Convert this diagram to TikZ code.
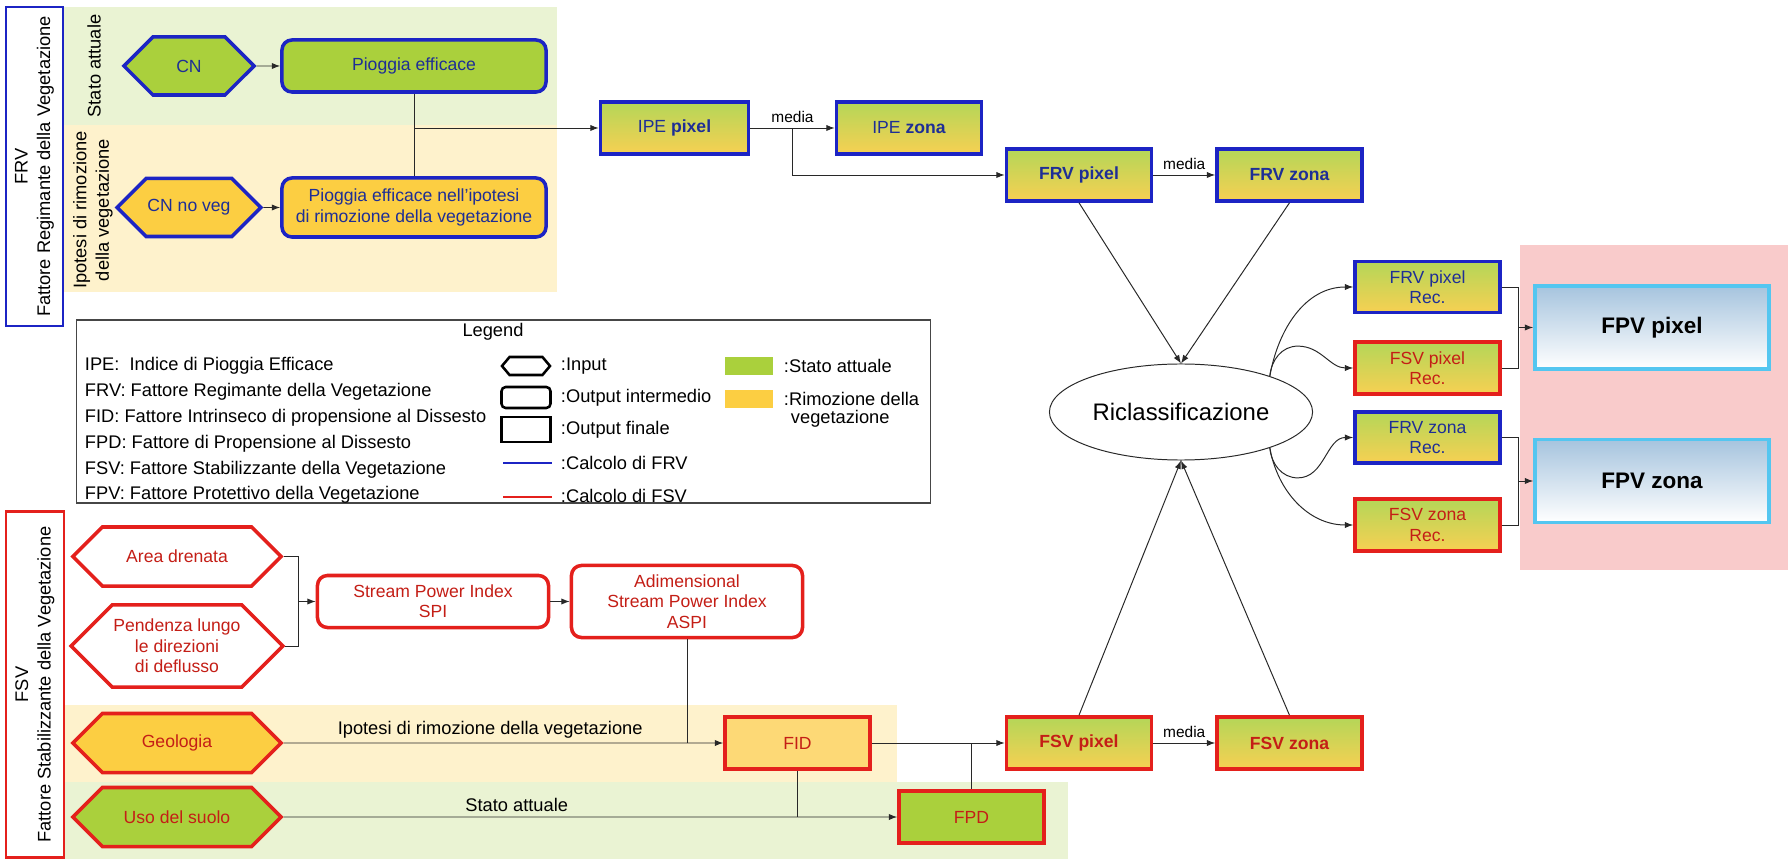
\documentclass[tikz,border=0pt]{standalone}
\usepackage{fontspec}
\setmainfont{Liberation Sans}
\usepackage{xcolor}
\usepackage{tikz}
\usetikzlibrary{shapes,arrows.meta,positioning,calc}

\definecolor{frvblue}{RGB}{28,36,196}
\definecolor{frvtext}{RGB}{30,46,150}
\definecolor{fsvred}{RGB}{228,32,28}
\definecolor{fsvtext}{RGB}{196,30,22}
\definecolor{vegreen}{RGB}{170,208,60}
\definecolor{vegyellow}{RGB}{252,206,66}
\definecolor{fidyellow}{RGB}{253,217,118}
\definecolor{palegreen}{RGB}{234,243,211}
\definecolor{paleyellow}{RGB}{254,242,204}
\definecolor{gradgreen}{RGB}{180,214,88}
\definecolor{gradyellow}{RGB}{247,208,82}
\definecolor{pinkbg}{RGB}{249,203,203}
\definecolor{fpvcyan}{RGB}{84,198,240}
\definecolor{fpvtop}{RGB}{166,196,222}
\definecolor{lineg}{RGB}{40,40,40}
\definecolor{legendgray}{RGB}{70,70,70}

\newcommand{\boxfont}{\fontsize{12.5}{14.5}\selectfont}
\newcommand{\lblfont}{\fontsize{13}{16}\selectfont}

\tikzset{
  inhex/.style={signal, signal to=east and west, signal pointer angle=90,
    minimum width=3.25cm, minimum height=1.45cm, inner sep=1pt,
    line width=2.5pt, align=center, font=\boxfont},
  midbox/.style={rectangle, rounded corners=0.25cm, line width=2.5pt,
    align=center, font=\boxfont},
  finbox/.style={rectangle, line width=2.5pt, align=center, font=\boxfont,
    minimum width=3.625cm, minimum height=1.3cm},
  frv/.style={draw=frvblue, text=frvtext},
  fsv/.style={draw=fsvred, text=fsvtext},
  grad/.style={top color=gradgreen, bottom color=gradyellow},
  fpvbox/.style={rectangle, draw=fpvcyan, line width=2.5pt, top color=fpvtop,
    bottom color=white, minimum width=5.85cm, minimum height=2.075cm,
    font=\fontsize{16}{19}\selectfont\bfseries},
  sidebox/.style={rectangle, rotate=90, fill=white, line width=1.8pt,
    align=center, font=\lblfont, inner sep=0pt},
  conn/.style={draw=lineg, line width=0.7pt},
  arr/.style={conn, -{Latex[length=6pt,width=4.5pt]}},
  medialbl/.style={above, font=\fontsize{11}{13}\selectfont},
  lgtext/.style={anchor=west, font=\lblfont},
}

\begin{document}
\begin{tikzpicture}[x=0.025cm, y=-0.025cm]
  \useasboundingbox (0,0) rectangle (1790,859);

  % Bands
  \fill[palegreen] (63,7) rectangle (557,125);
  \fill[paleyellow] (63,125) rectangle (557,292);
  \fill[paleyellow] (64,705) rectangle (897,782);
  \fill[palegreen] (64,782) rectangle (1068,859);
  \fill[pinkbg] (1520,245) rectangle (1788,570);

  % Side labels
  \node[sidebox, draw=frvblue, minimum width=7.975cm, minimum height=1.43cm] (frvlab) at (34.4,166.5) {FRV\\Fattore Regimante della Vegetazione};
  \node[sidebox, draw=fsvred, minimum width=8.65cm, minimum height=1.45cm] (fsvlab) at (35,684.5) {FSV\\Fattore Stabilizzante della Vegetazione};
  \node[rotate=90, font=\lblfont] (statoa) at (94,66) {Stato attuale};
  \node[rotate=90, font=\lblfont, align=center] (ipotesia) at (93,210) {Ipotesi di rimozione\\della vegetazione};

  % FRV chain
  \node[inhex, frv, fill=vegreen] (CN) at (189,66) {CN};
  \node[midbox, frv, fill=vegreen, minimum width=6.6cm, minimum height=1.3cm] (PE) at (414,66) {Pioggia efficace};
  \node[inhex, frv, fill=vegyellow] (CNnv) at (189,207.5) {CN no veg};
  \node[midbox, frv, fill=vegyellow, minimum width=6.6cm, minimum height=1.475cm] (PEnv) at (414,207.5) {Pioggia efficace nell'ipotesi\\di rimozione della vegetazione};
  \draw[arr] (CN) -- (PE);
  \draw[arr] (CNnv) -- (PEnv);
  \draw[conn] (PE.south) -- (PEnv.north);

  \node[finbox, frv, grad, minimum width=3.7cm] (IPEp) at (674.5,128) {IPE \textbf{pixel}};
  \node[finbox, frv, grad] (IPEz) at (909,128) {IPE \textbf{zona}};
  \node[finbox, frv, grad, font=\boxfont\bfseries] (FRVp) at (1079,175) {FRV pixel};
  \node[finbox, frv, grad, font=\boxfont\bfseries] (FRVz) at (1289.5,175) {FRV zona};
  \draw[arr] (PE.south |- IPEp.west) -- (IPEp.west);
  \draw[arr] (IPEp.east) -- node[medialbl] (media1) {media} (IPEz.west);
  \draw[arr] ($(IPEp.east)!0.5!(IPEz.west)$) |- (FRVp.west);
  \draw[arr] (FRVp.east) -- node[medialbl] (media2) {media} (FRVz.west);

  % Riclassificazione
  \node[ellipse, draw=lineg, line width=0.7pt, minimum width=6cm, minimum height=2.4cm, font=\fontsize{17}{20}\selectfont] (ell) at (1181,412) {Riclassificazione};
  \draw[arr] (FRVp.south) -- (ell.north);
  \draw[arr] (FRVz.south) -- (ell.north);

  % Reclassified outputs
  \node[finbox, frv, grad, minimum height=1.275cm] (FRVpr) at (1427.5,287) {FRV pixel\\Rec.};
  \node[finbox, fsv, grad, minimum height=1.3cm] (FSVpr) at (1427.5,368) {FSV pixel\\Rec.};
  \node[finbox, frv, grad, minimum height=1.275cm] (FRVzr) at (1427.5,437.5) {FRV zona\\Rec.};
  \node[finbox, fsv, grad, minimum height=1.3cm] (FSVzr) at (1427.5,525) {FSV zona\\Rec.};
  \draw[arr] (ell.22) to[out=80,in=180] (FRVpr.west);
  \draw[arr] (ell.22) to[out=85,in=180] ++(28,-30) to[out=0,in=180] (FSVpr.west);
  \draw[arr] (ell.-22) to[out=-85,in=180] ++(28,30) to[out=0,in=180] (FRVzr.west);
  \draw[arr] (ell.-22) to[out=-80,in=180] (FSVzr.west);

  \node[fpvbox] (FPVp) at (1652,327.5) {FPV pixel};
  \node[fpvbox] (FPVz) at (1652,481) {FPV zona};
  \coordinate (bp) at (1518,327.5);
  \coordinate (bz) at (1518,481);
  \draw[conn] (FRVpr.east) -| (bp) |- (FSVpr.east);
  \draw[arr] (bp) -- (FPVp);
  \draw[conn] (FRVzr.east) -| (bz) |- (FSVzr.east);
  \draw[arr] (bz) -- (FPVz);

  % Legend
  \node[draw=legendgray, line width=0.8pt, minimum width=21.325cm, minimum height=4.575cm] (legend) at (503.5,411.5) {};
  \node[font=\lblfont] (legtitle) at (493,332) {Legend};
  \node[lgtext] (lg1) at (80,366) {IPE:~ Indice di Pioggia Efficace};
  \node[lgtext] (lg2) at (80,392) {FRV: Fattore Regimante della Vegetazione};
  \node[lgtext] (lg3) at (80,418) {FID: Fattore Intrinseco di propensione al Dissesto};
  \node[lgtext] (lg4) at (80,444) {FPD: Fattore di Propensione al Dissesto};
  \node[lgtext] (lg5) at (80,470) {FSV: Fattore Stabilizzante della Vegetazione};
  \node[lgtext] (lg6) at (80,495) {FPV: Fattore Protettivo della Vegetazione};

  \node[signal, signal to=east and west, signal pointer angle=100, draw, line width=1.8pt, minimum width=1.2cm, minimum height=0.45cm, inner sep=0pt] (lgin) at (526,366) {};
  \node[draw, rounded corners=3pt, line width=1.8pt, minimum width=1.225cm, minimum height=0.525cm] (lgmid) at (526,397.5) {};
  \node[draw, line width=1.8pt, minimum width=1.225cm, minimum height=0.625cm] (lgfin) at (526,429.5) {};
  \draw[frvblue, line width=1.6pt] (503,463) -- (552,463);
  \draw[fsvred, line width=1.6pt] (503,497) -- (552,497);
  \node[lgtext] (lgt1) at (556,366) {:Input};
  \node[lgtext] (lgt2) at (556,398) {:Output intermedio};
  \node[lgtext] (lgt3) at (556,430) {:Output finale};
  \node[lgtext] (lgt4) at (556,463) {:Calcolo di FRV};
  \node[lgtext] (lgt5) at (556,496) {:Calcolo di FSV};

  \fill[vegreen] (725,357) rectangle (773,375);
  \fill[vegyellow] (725,390) rectangle (773,408);
  \node[lgtext] (lgt6) at (779,366) {:Stato attuale};
  \node[lgtext] (lgt7) at (779,399) {:Rimozione della};
  \node[lgtext] (lgt8) at (786,419) {vegetazione};

  % FSV chain
  \node[inhex, fsv, fill=white, minimum width=5.2cm, minimum height=1.475cm] (AD) at (177,556.5) {Area drenata};
  \node[inhex, fsv, fill=white, minimum width=5.2cm, minimum height=2.05cm] (PD) at (177,646) {Pendenza lungo\\le direzioni\\di deflusso};
  \coordinate (bs) at (298.5,601.5);
  \draw[conn] (AD.east) -| (bs) |- (PD.east);
  \node[midbox, fsv, fill=white, minimum width=5.775cm, minimum height=1.3cm] (SPI) at (433,601.5) {Stream Power Index\\SPI};
  \node[midbox, fsv, fill=white, minimum width=5.775cm, minimum height=1.8cm] (ASPI) at (687,601.5) {Adimensional\\Stream Power Index\\ASPI};
  \draw[arr] (bs) -- (SPI);
  \draw[arr] (SPI) -- (ASPI);

  \node[inhex, fsv, fill=vegyellow, minimum width=5.2cm, minimum height=1.475cm] (Geo) at (177,743) {Geologia};
  \node[inhex, fsv, fill=vegreen, minimum width=5.2cm, minimum height=1.475cm] (Uso) at (177,817) {Uso del suolo};
  \node[finbox, fsv, fill=fidyellow] (FID) at (797.5,743) {FID};
  \node[finbox, fsv, fill=vegreen] (FPD) at (971.5,817) {FPD};
  \draw[arr] (Geo) -- node[pos=0.47, above, font=\lblfont] (ipotesib) {Ipotesi di rimozione della vegetazione} (FID);
  \draw[conn] (ASPI.south) -- (ASPI.south |- FID.west);
  \draw[arr] (Uso) -- node[pos=0.38, above, font=\lblfont] (statob) {Stato attuale} (FPD);
  \draw[conn] (FID.south) -- (FID.south |- FPD.west);

  \node[finbox, fsv, grad, font=\boxfont\bfseries] (FSVp) at (1079,743) {FSV pixel};
  \node[finbox, fsv, grad, font=\boxfont\bfseries] (FSVz) at (1289.5,743) {FSV zona};
  \draw[arr] (FID) -- (FSVp);
  \draw[conn] (FPD.north) -- (FPD.north |- FSVp.west);
  \draw[arr] (FSVp.east) -- node[medialbl] (media3) {media} (FSVz.west);
  \draw[arr] (FSVp.north) -- (ell.south);
  \draw[arr] (FSVz.north) -- (ell.south);
\end{tikzpicture}
\end{document}
